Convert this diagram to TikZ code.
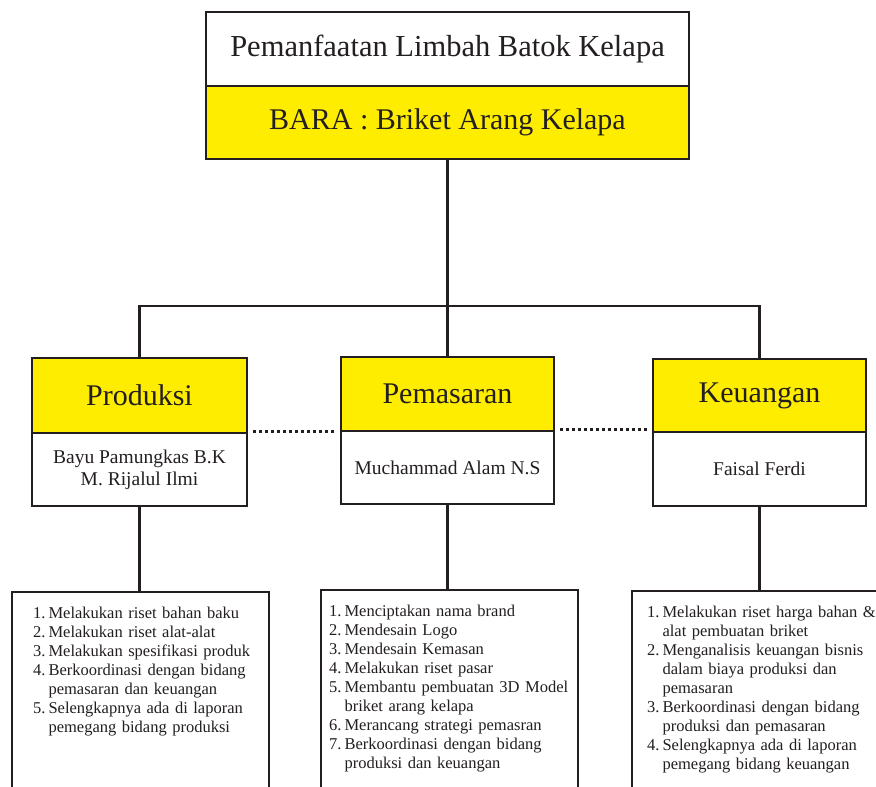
\documentclass[tikz,border=0pt]{standalone}
\usepackage{fontspec}
\setmainfont{Liberation Serif}
\begin{document}
\begin{tikzpicture}[x=1pt, y=-1pt,
  box/.style={draw=ink, line width=2.4pt, inner sep=0pt, text=ink},
  head/.style={box, fill=barayellow, font=\fontsize{30}{36}\selectfont},
  crew/.style={box, fill=white, align=center, font=\fontsize{19.5}{22}\selectfont},
  tasks/.style={box, fill=white, anchor=north west, align=left, inner ysep=12.5pt, text depth=260pt, font=\fontsize{16.5}{19}\selectfont},
  link/.style={draw=ink, line width=2.4pt},
  dots/.style={draw=ink, line width=3pt, dash pattern=on 3pt off 3pt}]
	\definecolor{ink}{RGB}{35,31,32}
	\definecolor{barayellow}{RGB}{255,237,0}
    \useasboundingbox (0,0) rectangle (876,787);
    \clip (0,0) rectangle (876,787);

    % Draw top boxes
    \node[box, fill=white, minimum width=483, minimum height=74, font=\fontsize{30.5}{36}\selectfont] (title) at (447.5,49) {Pemanfaatan Limbah Batok Kelapa};
    \node[head, minimum width=483, minimum height=73] (bara) at (447.5,122.5) {BARA : Briket Arang Kelapa};

    % Draw divisions
    \node[head, minimum width=215, minimum height=75] (prod) at (139.5,395.5) {Produksi};
    \node[crew, minimum width=215, minimum height=73] (prodcrew) at (139.5,469.5) {Bayu Pamungkas B.K\\M. Rijalul Ilmi};
    \node[head, minimum width=213, minimum height=74] (pem) at (447.5,394) {Pemasaran};
    \node[crew, minimum width=213, minimum height=73] (pemcrew) at (447.5,467.5) {Muchammad Alam N.S};
    \node[head, minimum width=213, minimum height=73] (keu) at (759.5,395.5) {Keuangan};
    \node[crew, minimum width=213, minimum height=74] (keucrew) at (759.5,469) {Faisal Ferdi};

    % Draw task lists
    \node[tasks, inner xsep=21pt, text width=215pt] (prodtasks) at (11,591) {\begin{tabular}[t]{@{}l@{\hspace{3pt}}l@{}}
      1. & Melakukan riset bahan baku\\
      2. & Melakukan riset alat-alat\\
      3. & Melakukan spesifikasi produk\\
      4. & Berkoordinasi dengan bidang\\
         & pemasaran dan keuangan\\
      5. & Selengkapnya ada di laporan\\
         & pemegang bidang produksi
    \end{tabular}};
    \node[tasks, inner xsep=8pt, text width=241pt] (pemtasks) at (320,589) {\begin{tabular}[t]{@{}l@{\hspace{3pt}}l@{}}
      1. & Menciptakan nama brand\\
      2. & Mendesain Logo\\
      3. & Mendesain Kemasan\\
      4. & Melakukan riset pasar\\
      5. & Membantu pembuatan 3D Model\\
         & briket arang kelapa\\
      6. & Merancang strategi pemasran\\
      7. & Berkoordinasi dengan bidang\\
         & produksi dan keuangan
    \end{tabular}};
    \node[tasks, inner xsep=15pt, text width=226pt] (keutasks) at (631,590) {\begin{tabular}[t]{@{}l@{\hspace{3pt}}l@{}}
      1. & Melakukan riset harga bahan \&\\
         & alat pembuatan briket\\
      2. & Menganalisis keuangan bisnis\\
         & dalam biaya produksi dan\\
         & pemasaran\\
      3. & Berkoordinasi dengan bidang\\
         & produksi dan pemasaran\\
      4. & Selengkapnya ada di laporan\\
         & pemegang bidang keuangan
    \end{tabular}};

    % Draw connectors
    \coordinate (bus) at (0,306);
    \draw[link] (bara.south) -- (pem.north);
    \draw[link] (prod.north) -- (prod.north |- bus) -- (keu.north |- bus) -- (keu.north);
    \draw[link] (prodcrew.south) -- (prodcrew.south |- prodtasks.north);
    \draw[link] (pemcrew.south) -- (pemcrew.south |- pemtasks.north);
    \draw[link] (keucrew.south) -- (keucrew.south |- keutasks.north);

	\draw[dots] ([xshift=5pt]prodcrew.north east) -- ([xshift=-5pt]prodcrew.north east -| pemcrew.west);
	\draw[dots] ([xshift=5pt]pemcrew.north east) -- ([xshift=-5pt]pemcrew.north east -| keucrew.west);
\end{tikzpicture}
\end{document}
